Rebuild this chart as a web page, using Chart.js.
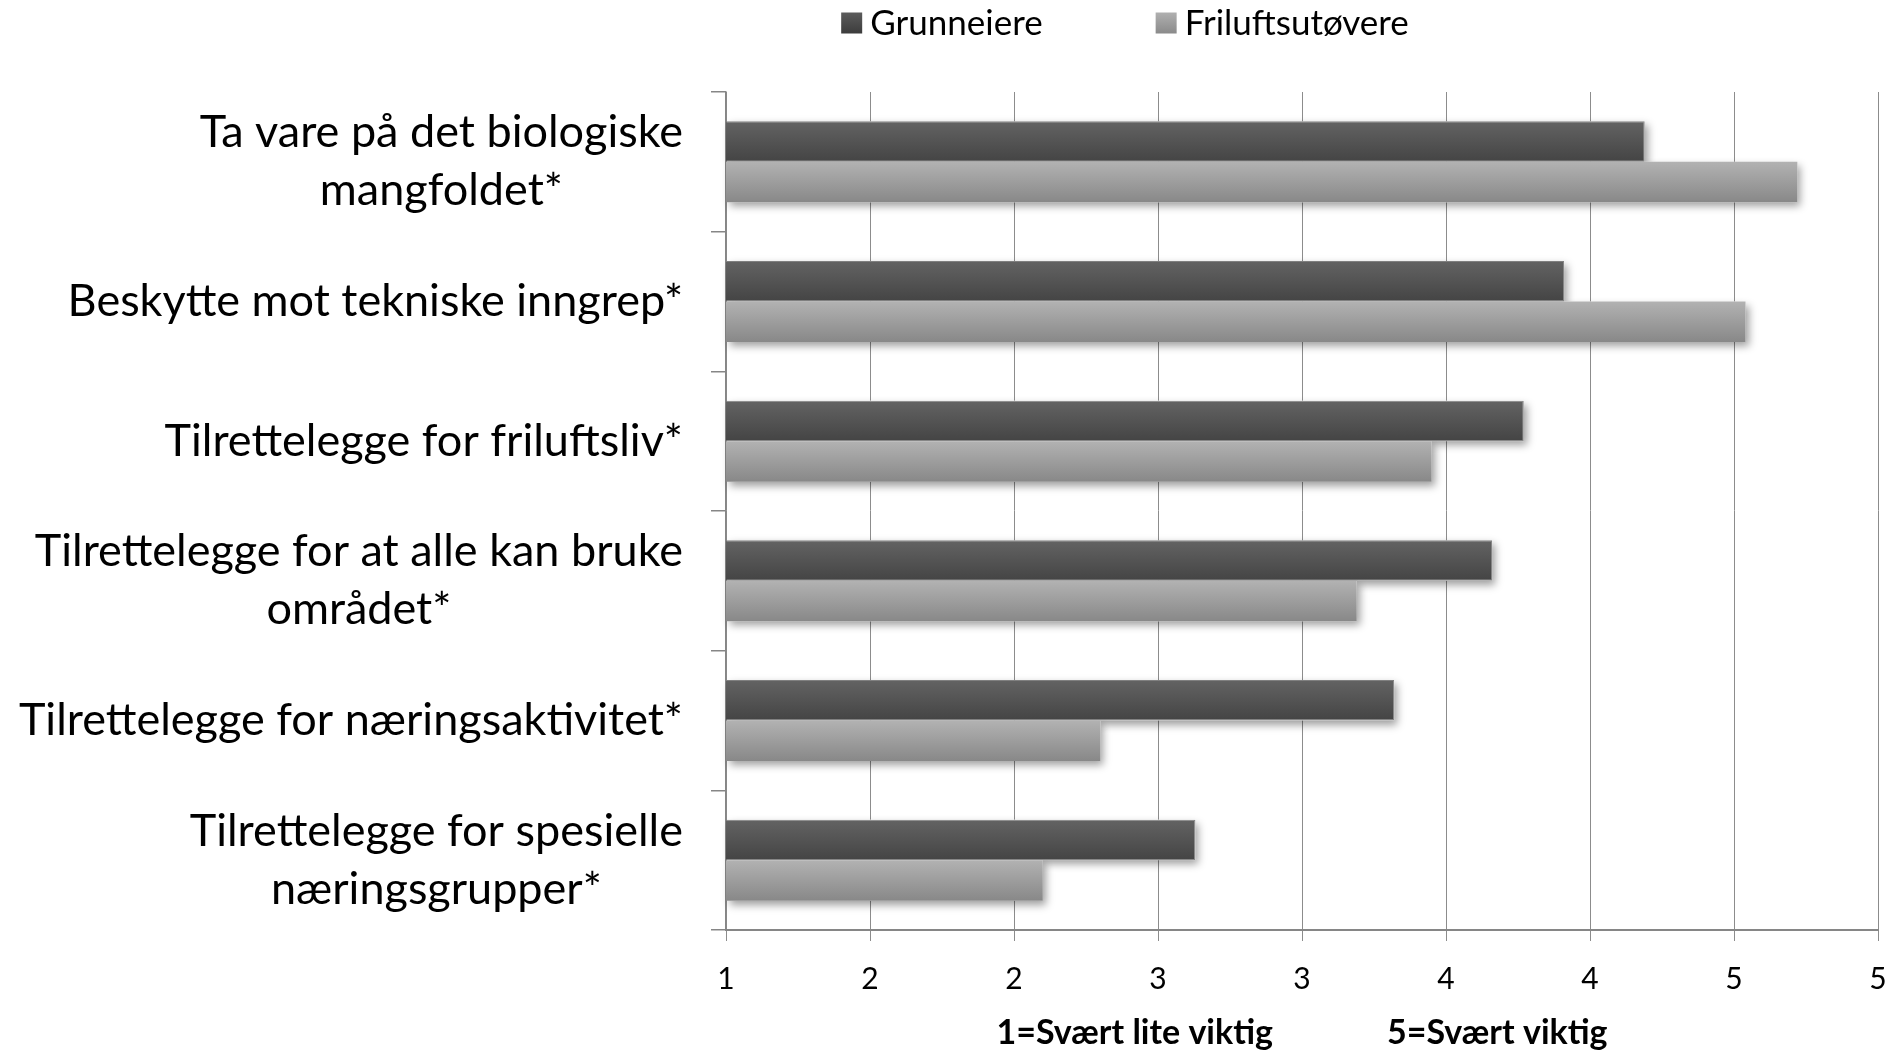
<!DOCTYPE html>
<html lang="no">
<head>
    <meta charset="UTF-8">
    <title>Grunneiere og friluftsutøvere – viktighet</title>
    <script src="https://cdn.jsdelivr.net/npm/chart.js"></script>
    <style>
        html, body { margin: 0; padding: 0; background: #fff; }
        .wrapper { width: 1901px; height: 1051px; }
    </style>
</head>
<body>
    <div class="wrapper">
        <canvas id="viktighetChart"></canvas>
    </div>

    <script>
        // categories (y axis), top to bottom
        const categories = [
            ['Ta vare på det biologiske', 'mangfoldet*'],
            ['Beskytte mot tekniske inngrep*'],
            ['Tilrettelegge for friluftsliv*'],
            ['Tilrettelegge for at alle kan bruke', 'området*'],
            ['Tilrettelegge for næringsaktivitet*'],
            ['Tilrettelegge for spesielle', 'næringsgrupper*']
        ];
        const seriesNames = ['Grunneiere', 'Friluftsutøvere'];
        const grunneiere = [4.19, 3.91, 3.77, 3.66, 3.32, 2.63];
        const friluftsutovere = [4.72, 4.54, 3.45, 3.19, 2.30, 2.10];
        // excel rounded the 0.5 steps to whole numbers
        const xTickLabels = ['1', '2', '2', '3', '3', '4', '4', '5', '5'];
        const axisTitleParts = ['1=Svært lite viktig', '5=Svært viktig'];

        const FONT = 'Lato';
        const catPct = 0.58;
        const fills = [
            { top: '#636363', bottom: '#444444', legendTop: '#5c5c5c', legendBottom: '#3c3c3c' },
            { top: '#b2b2b2', bottom: '#888888', legendTop: '#b0b0b0', legendBottom: '#8a8a8a' }
        ];

        // vertical gradient per bar, placed using the category scale
        function barFill(c) {
            const f = fills[c.datasetIndex];
            const ys = c.chart.scales.y;
            if (!ys || c.dataIndex === undefined || !isFinite(ys.height)) return f.bottom;
            const center = ys.getPixelForValue(c.dataIndex);
            const band = Math.abs(ys.getPixelForValue(1) - ys.getPixelForValue(0)) * catPct;
            const top = c.datasetIndex === 0 ? center - band / 2 : center;
            const g = c.chart.ctx.createLinearGradient(0, top, 0, top + band / 2);
            g.addColorStop(0, f.top);
            g.addColorStop(1, f.bottom);
            return g;
        }

        const decorPlugin = {
            id: 'decor',
            beforeDatasetsDraw(chart) {
                // soft drop shadow under every bar
                const ctx = chart.ctx;
                const left = chart.chartArea.left;
                ctx.save();
                ctx.shadowColor = 'rgba(0, 0, 0, 0.38)';
                ctx.shadowBlur = 8;
                ctx.shadowOffsetX = 3;
                ctx.shadowOffsetY = 4;
                ctx.fillStyle = '#ffffff';
                chart.data.datasets.forEach((ds, i) => {
                    chart.getDatasetMeta(i).data.forEach(bar => {
                        const p = bar.getProps(['x', 'y', 'base', 'height'], true);
                        const x0 = Math.max(p.base, left + 1);
                        ctx.fillRect(x0, p.y - p.height / 2, p.x - x0, p.height);
                    });
                });
                ctx.restore();
            },
            afterDraw(chart) {
                const ctx = chart.ctx;
                const ys = chart.scales.y;
                ctx.save();

                // category labels: block right aligned, lines centred
                ctx.font = '45px ' + FONT;
                ctx.fillStyle = '#000';
                ctx.textAlign = 'center';
                ctx.textBaseline = 'middle';
                const lineH = 58;
                categories.forEach((lines, i) => {
                    const yc = ys.getPixelForValue(i);
                    const w = Math.max(...lines.map(l => ctx.measureText(l).width));
                    const cx = chart.chartArea.left - 43 - w / 2;
                    lines.forEach((l, k) => {
                        ctx.fillText(l, cx, yc + (k - (lines.length - 1) / 2) * lineH);
                    });
                });

                // legend
                ctx.font = '35px ' + FONT;
                ctx.textAlign = 'left';
                const box = 21, boxGap = 8, itemGap = 113, legendCenter = 1125, legendY = 23;
                const widths = seriesNames.map(n => ctx.measureText(n).width);
                const total = widths.reduce((a, w) => a + box + boxGap + w, 0) + itemGap;
                let x = legendCenter - total / 2;
                seriesNames.forEach((n, i) => {
                    const g = ctx.createLinearGradient(0, legendY - box / 2, 0, legendY + box / 2);
                    g.addColorStop(0, fills[i].legendTop);
                    g.addColorStop(1, fills[i].legendBottom);
                    ctx.fillStyle = g;
                    ctx.fillRect(x, legendY - box / 2, box, box);
                    ctx.fillStyle = '#000';
                    ctx.fillText(n, x + box + boxGap, legendY + 1);
                    x += box + boxGap + widths[i] + itemGap;
                });

                // axis title below the tick labels, two parts
                const xs = chart.scales.x;
                ctx.font = 'bold 34px ' + FONT;
                ctx.textAlign = 'center';
                const gap = 114;
                const w0 = ctx.measureText(axisTitleParts[0]).width;
                const w1 = ctx.measureText(axisTitleParts[1]).width;
                const mid = (chart.chartArea.left + chart.chartArea.right) / 2;
                const start = mid - (w0 + gap + w1) / 2;
                ctx.fillText(axisTitleParts[0], start + w0 / 2, xs.bottom - 18);
                ctx.fillText(axisTitleParts[1], start + w0 + gap + w1 / 2, xs.bottom - 18);

                ctx.restore();
            }
        };

        function makeChart() {
            const ctx = document.getElementById('viktighetChart').getContext('2d');
            new Chart(ctx, {
                type: 'bar',
                data: {
                    labels: categories,
                    datasets: [
                        {
                            label: seriesNames[0],
                            data: grunneiere,
                            backgroundColor: barFill,
                            borderColor: '#808080',
                            borderWidth: 1,
                            borderSkipped: 'start'
                        },
                        {
                            label: seriesNames[1],
                            data: friluftsutovere,
                            backgroundColor: barFill,
                            borderWidth: 0
                        }
                    ]
                },
                options: {
                    indexAxis: 'y',
                    responsive: true,
                    maintainAspectRatio: false,
                    animation: false,
                    categoryPercentage: catPct,
                    barPercentage: 1,
                    layout: {
                        padding: { top: 92, right: 23, bottom: 0, left: 0 }
                    },
                    scales: {
                        x: {
                            min: 1,
                            max: 5,
                            grid: {
                                color: '#8c8c8c',
                                lineWidth: 1,
                                drawTicks: true,
                                tickLength: 11
                            },
                            border: { color: '#868686', width: 2 },
                            ticks: {
                                stepSize: 0.5,
                                autoSkip: false,
                                maxRotation: 0,
                                color: '#000',
                                padding: 20,
                                font: { family: FONT, size: 30 },
                                callback: (v, i) => xTickLabels[i]
                            },
                            afterFit: s => {
                                s.height = 121;
                                s.paddingLeft = 0;
                                s.paddingRight = 0;
                            }
                        },
                        y: {
                            offset: true,
                            grid: {
                                offset: true,
                                drawOnChartArea: false,
                                drawTicks: true,
                                tickLength: 15,
                                color: '#868686',
                                lineWidth: 1.5
                            },
                            border: { color: '#868686', width: 1.5 },
                            ticks: { display: false },
                            afterFit: s => { s.width = 726; }
                        }
                    },
                    plugins: {
                        legend: { display: false },
                        tooltip: { enabled: false }
                    }
                },
                plugins: [decorPlugin]
            });
        }

        Promise.all([
            document.fonts.load('45px Lato'),
            document.fonts.load('bold 34px Lato')
        ]).catch(() => {}).then(makeChart);
    </script>
</body>
</html>
